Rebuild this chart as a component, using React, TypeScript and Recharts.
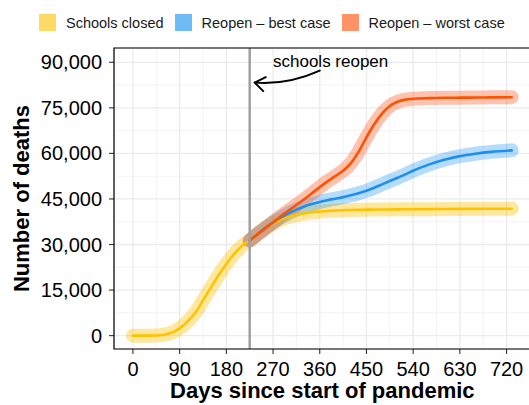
import React from "react";
import {
  LineChart,
  Line,
  XAxis,
  YAxis,
  CartesianGrid,
  ReferenceLine,
  ReferenceArea,
  ReferenceDot,
} from "recharts";

const FONT = '"Liberation Sans", Arial, Helvetica, sans-serif';

// ---- data ----
const days = [
  0, 15, 30, 45, 60, 75, 90, 105, 120, 135, 150, 165, 180, 195, 210, 225, 240,
  255, 270, 285, 300, 315, 330, 345, 360, 375, 390, 405, 420, 435, 450, 465,
  480, 495, 510, 525, 540, 570, 600, 630, 660, 690, 730,
];
const schoolsClosed = [
  0, 0, 0, 50, 300, 1000, 2400, 4600, 7500, 11600, 15800, 19900, 23600, 26900,
  29500, 31300, 33500, 35400, 36900, 38100, 39000, 39700, 40200, 40600, 40850,
  41050, 41200, 41300, 41380, 41440, 41480, 41510, 41530, 41550, 41570, 41590,
  41600, 41640, 41680, 41720, 41750, 41780, 41800,
];
const reopenBest = [
  null, null, null, null, null, null, null, null, null, null, null, null, null,
  null, null, 31300, 33500, 35500, 37300, 38900, 40300, 41500, 42500, 43300,
  44000, 44600, 45100, 45600, 46200, 46900, 47700, 48700, 49800, 50900, 52000,
  53100, 54300, 56300, 57900, 59100, 59900, 60500, 61000,
];
const reopenWorst = [
  null, null, null, null, null, null, null, null, null, null, null, null, null,
  null, null, 31300, 33300, 35300, 37300, 39300, 41200, 43000, 44900, 46900,
  48900, 50800, 52500, 54300, 56800, 60600, 65300, 69600, 73100, 75600, 77000,
  77700, 78000, 78200, 78300, 78350, 78400, 78450, 78500,
];

const seriesNames = ["Schools closed", "Reopen – best case", "Reopen – worst case"];
const seriesKeys = ["closed", "best", "worst"];
const lineColors = ["#FFC200", "#1E8FEA", "#FF5200"];
const bandColors = ["#FFC200", "#2196F3", "#FF5722"];
const bandOpacity = [0.38, 0.33, 0.36];
const legendColors = ["#FFD966", "#6EBBF5", "#FF9266"];

const xTicks = [0, 90, 180, 270, 360, 450, 540, 630, 720];
const xMinorTicks = [45, 135, 225, 315, 405, 495, 585, 675];
const yTicks = [0, 15000, 30000, 45000, 60000, 75000, 90000];
const yMinorTicks = [7500, 22500, 37500, 52500, 67500, 82500];
const xDomain = [-36.5, 766.5];
const yDomain = [-4400, 94700];

const reopenDay = 225;
const annotationText = "schools reopen";
const annotationTextPos = { x: 381, y: 88300 };
const arrowTipPos = { x: 234.7, y: 83300 };

const data = days.map((d, i) => ({
  day: d,
  closed: schoolsClosed[i],
  best: reopenBest[i],
  worst: reopenWorst[i],
}));

const fmt = (v: number) => v.toLocaleString("en-US");

const ArrowShape = (props: any) => {
  const { cx, cy } = props;
  if (cx == null || cy == null) return null;
  return (
    <g fill="none" stroke="#000" strokeWidth={2} strokeLinecap="round" strokeLinejoin="round">
      <path d={`M${cx + 65},${cy - 12} Q${cx + 33},${cy + 2.5} ${cx},${cy}`} />
      <path d={`M${cx + 11},${cy - 5.5} L${cx},${cy} L${cx + 8.5},${cy + 8.5}`} />
    </g>
  );
};

const TextShape = (props: any) => {
  const { cx, cy } = props;
  if (cx == null || cy == null) return null;
  return (
    <text x={cx} y={cy} textAnchor="middle" fontSize={17} fontFamily={FONT} fill="#000">
      {annotationText}
    </text>
  );
};

export default function App() {
  return (
    <div
      style={{
        position: "absolute",
        left: 0,
        top: 0,
        width: 529,
        height: 405,
        overflow: "hidden",
        background: "#fff",
      }}
    >
      <div
        style={{
          position: "absolute",
          top: 14,
          left: 39,
          display: "flex",
          alignItems: "center",
          fontFamily: FONT,
          fontSize: 14.5,
          color: "#1a1a1a",
          whiteSpace: "nowrap",
          height: 17,
        }}
      >
        {seriesNames.map((n, i) => (
          <div key={n} style={{ display: "flex", alignItems: "center", marginRight: 11 }}>
            <div style={{ width: 17, height: 17, background: legendColors[i], marginRight: 10 }} />
            <span>{n}</span>
          </div>
        ))}
      </div>
      <LineChart
        width={532}
        height={405}
        data={data}
        margin={{ top: 48, right: 1.3, bottom: 0, left: 0 }}
      >
        <XAxis xAxisId="minor" dataKey="day" type="number" domain={xDomain} ticks={xMinorTicks} hide allowDataOverflow />
        <YAxis yAxisId="minor" type="number" domain={yDomain} ticks={yMinorTicks} hide allowDataOverflow />
        <CartesianGrid xAxisId="minor" yAxisId="minor" stroke="#EBEBEB" strokeWidth={0.6} />
        <CartesianGrid stroke="#EBEBEB" strokeWidth={1.3} />
        <XAxis
          dataKey="day"
          type="number"
          domain={xDomain}
          ticks={xTicks}
          interval={0}
          allowDataOverflow
          height={56}
          axisLine={false}
          tickSize={5}
          tickMargin={8}
          tickLine={{ stroke: "#333", strokeWidth: 1.1 }}
          tick={{ fontSize: 20, fill: "#000", fontFamily: FONT }}
          label={{
            value: "Days since start of pandemic",
            position: "insideBottom",
            offset: 7,
            style: { fontSize: 22, fontWeight: "bold", fill: "#000", fontFamily: FONT },
          }}
        />
        <YAxis
          type="number"
          domain={yDomain}
          ticks={yTicks}
          interval={0}
          allowDataOverflow
          width={114}
          axisLine={false}
          tickSize={5}
          tickMargin={7}
          tickFormatter={fmt}
          tickLine={{ stroke: "#333", strokeWidth: 1.1 }}
          tick={{ fontSize: 20, fill: "#000", fontFamily: FONT }}
          label={{
            value: "Number of deaths",
            angle: -90,
            position: "insideLeft",
            offset: 21,
            style: { fontSize: 22, fontWeight: "bold", fill: "#000", fontFamily: FONT, textAnchor: "middle" },
          }}
        />
        {seriesKeys.map((k, i) => (
          <Line
            key={"band-" + k}
            dataKey={k}
            type="monotone"
            stroke={bandColors[i]}
            strokeOpacity={bandOpacity[i]}
            strokeWidth={14}
            strokeLinecap="round"
            strokeLinejoin="round"
            dot={false}
            activeDot={false}
            legendType="none"
            isAnimationActive={false}
          />
        ))}
        {seriesKeys.map((k, i) => (
          <Line
            key={"line-" + k}
            dataKey={k}
            name={seriesNames[i]}
            type="monotone"
            stroke={lineColors[i]}
            strokeWidth={2.6}
            strokeLinecap="round"
            dot={false}
            activeDot={false}
            isAnimationActive={false}
          />
        ))}
        <ReferenceLine x={reopenDay} stroke="#A0A0A0" strokeWidth={2.5} zIndex={1000} />
        <ReferenceDot x={arrowTipPos.x} y={arrowTipPos.y} r={0} ifOverflow="visible" shape={ArrowShape} zIndex={1000} />
        <ReferenceDot x={annotationTextPos.x} y={annotationTextPos.y} r={0} ifOverflow="visible" shape={TextShape} zIndex={1000} />
        <ReferenceArea
          x1={xDomain[0]}
          x2={xDomain[1]}
          y1={yDomain[0]}
          y2={yDomain[1]}
          fill="none"
          fillOpacity={0}
          stroke="#000"
          strokeWidth={1.2}
          ifOverflow="visible"
          zIndex={1000}
        />
      </LineChart>
    </div>
  );
}
